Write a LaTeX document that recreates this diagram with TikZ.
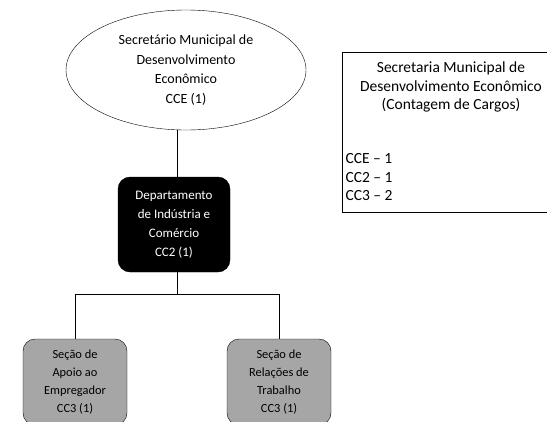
\documentclass[tikz,border=0pt]{standalone}
\usepackage{fontspec}
\setmainfont{Carlito}
\usetikzlibrary{shapes.geometric}

\begin{document}
\begin{tikzpicture}[x=1pt,y=-1pt,
  every node/.style={align=center},
  chefe/.style={ellipse,draw,font=\fontsize{14}{19.7}\selectfont,minimum width=240pt,minimum height=120pt,inner sep=0pt},
  depto/.style={rectangle,rounded corners=12pt,fill=black,draw=black,text=white,font=\fontsize{13}{19}\selectfont,minimum width=112pt,minimum height=95pt,inner sep=0pt},
  secao/.style={rectangle,rounded corners=12pt,fill=gray!70,draw=black,font=\fontsize{12.4}{18}\selectfont,minimum width=104pt,minimum height=86pt,inner sep=0pt},
  quadrotxt/.style={font=\fontsize{15.5}{18.5}\selectfont}]
\useasboundingbox (0,0) rectangle (547,421);
\node[chefe] (sec) at (186,70) {Secretário Municipal de\\Desenvolvimento\\Econômico\\CCE (1)};
\node[depto] (dept) at (174,224.5) {Departamento\\de Indústria e\\Comércio\\CC2 (1)};
\node[secao] (apoio) at (75,382) {Seção de\\Apoio ao\\Empregador\\CC3 (1)};
\node[secao] (rel) at (279,382) {Seção de\\Relações de\\Trabalho\\CC3 (1)};
\coordinate (bus) at (177,294.5);
\draw (bus |- sec.south) -- (bus |- dept.north);
\draw (bus |- dept.south) -- (bus);
\draw (apoio.north) |- (bus) -| (rel.north);
% quadro de cargos
\node[draw,rectangle,minimum width=212pt,minimum height=160pt,anchor=north west] (quadro) at (342,52) {};
\node[quadrotxt] (titulo) at (451,87) {Secretaria Municipal de\\Desenvolvimento Econômico\\(Contagem de Cargos)};
\node[quadrotxt,align=left,anchor=west] (cargos) at (342,177.5) {CCE -- 1\\CC2 -- 1\\CC3 -- 2};
\end{tikzpicture}
\end{document}
